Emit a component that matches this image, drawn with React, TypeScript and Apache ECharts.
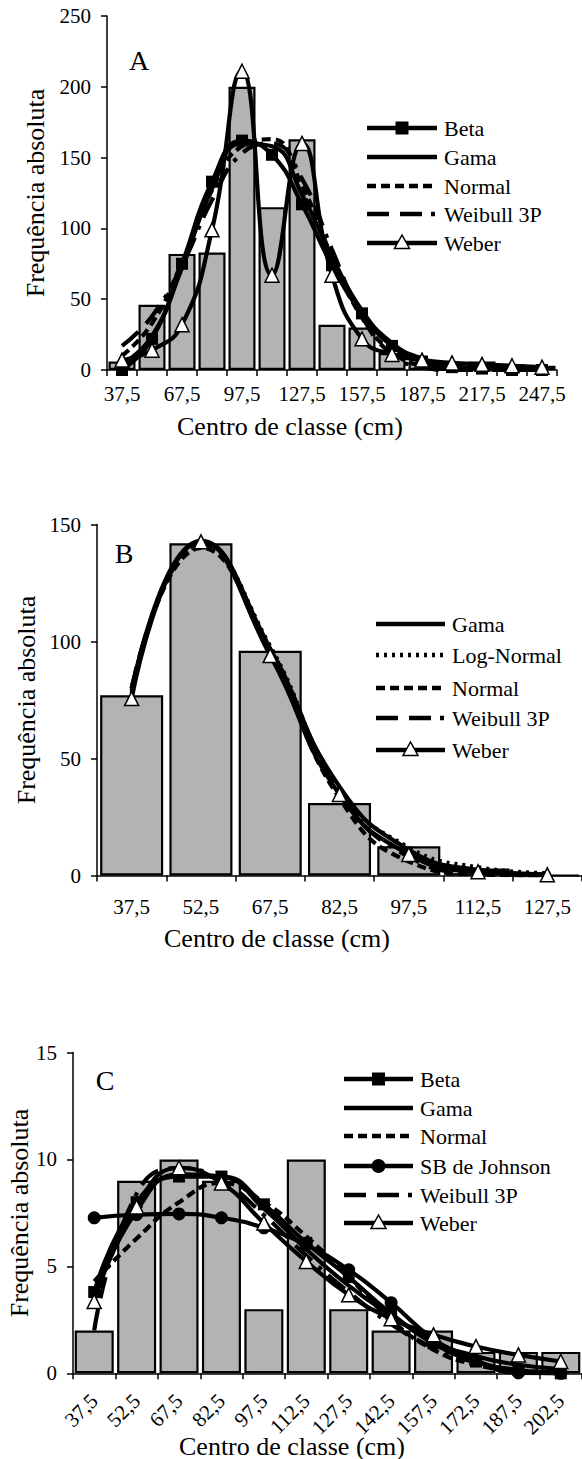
import React, { useEffect, useRef } from "react";
import * as echarts from "echarts";

// ---------- DATA ----------
const catsA = ["37,5", "52,5", "67,5", "82,5", "97,5", "112,5", "127,5", "142,5", "157,5", "172,5", "187,5", "202,5", "217,5", "232,5", "247,5"];
const barsA = [6, 46, 82, 83, 200, 115, 163, 32, 30, 12, 5, 3, 6, 4, 3];
const betaA = [0, 22, 75, 133, 162, 152, 117, 74, 40, 17, 6, 2, 1, 0, 0];
const gamaA = [4, 24, 72, 128, 160, 158, 124, 80, 42, 19, 8, 3, 1, 0.5, 0.2];
const normalA = [10, 33, 76, 127, 158, 163, 130, 80, 37, 13, 3, 0.5, 0, 0, 0];
const weibullA = [17, 38, 74, 120, 153, 160, 135, 85, 38, 11, 2, 0, 0, 0, 0];
const weberA = [7, 14, 32, 99, 211, 67, 160, 67, 22, 11, 7, 5, 4, 3, 2];

const catsB = ["37,5", "52,5", "67,5", "82,5", "97,5", "112,5", "127,5"];
const barsB = [77, 142, 96, 31, 12.5, 3, 0];
const gamaB = [79, 143, 97, 38, 11, 2.5, 0.5];
const logNormalB = [78, 142, 98, 37, 12, 3.5, 1];
const normalB = [80, 140, 96, 33, 6, 0.5, 0];
const weibullB = [80, 141, 97, 36, 8, 1, 0];
const weberB = [75.6, 142.6, 94, 34.6, 9, 1.6, 0.3];

const catsC = ["37,5", "52,5", "67,5", "82,5", "97,5", "112,5", "127,5", "142,5", "157,5", "172,5", "187,5", "202,5"];
const barsC = [2, 9, 10, 9, 3, 10, 3, 2, 2, 1, 1, 1];
const betaC = [3.8, 8.0, 9.2, 9.2, 7.9, 6.1, 4.5, 2.8, 1.4, 0.55, 0.15, 0];
const gamaC = [3.6, 7.6, 9.3, 9.2, 7.7, 5.8, 4.1, 2.7, 1.5, 0.8, 0.4, 0.2];
const normalC = [4.3, 6.3, 8.0, 8.9, 8.0, 6.4, 4.5, 2.5, 1.1, 0.4, 0.1, 0];
const sbJohnsonC = [7.27, 7.42, 7.45, 7.27, 6.8, 6.0, 4.84, 3.3, 1.6, 0.6, 0.02, 0];
const weibullC = [2.0, 8.4, 9.6, 9.0, 7.4, 5.5, 3.8, 2.3, 1.2, 0.5, 0.15, 0.05];
const weberC = [3.36, 7.78, 9.61, 8.9, 7.03, 5.23, 3.67, 2.55, 1.8, 1.25, 0.86, 0.55];

const yTicksA = { max: 250, interval: 50 };
const yTicksB = { max: 150, interval: 50 };
const yTicksC = { max: 15, interval: 5 };

// ---------- STYLES ----------
const FONT = '"Liberation Serif", "Times New Roman", serif';
const BAR_COLOR = "#b3b3b3";
const LW = 4.2;
const DASH_NORMAL = [9, 5];
const DASH_WEIBULL = [22, 11, 22, 9, 4, 9];
const DASH_LOGN = [3, 5];

type Kind = "beta" | "gama" | "normal" | "weibull" | "weber" | "logn" | "sb";

function lineSeries(kind: Kind, data: number[], idx: number, name: string) {
  const base: any = {
    type: "line",
    name,
    xAxisIndex: idx,
    yAxisIndex: idx,
    data,
    smooth: 0.5,
    symbol: "none",
    lineStyle: { color: "#000", width: LW, type: "solid" },
    itemStyle: { color: "#000" },
    z: 3,
  };
  if (kind === "beta") {
    base.symbol = "rect";
    base.symbolSize = 12;
  } else if (kind === "normal") {
    base.lineStyle.type = DASH_NORMAL;
  } else if (kind === "weibull") {
    base.lineStyle.type = DASH_WEIBULL;
  } else if (kind === "logn") {
    base.lineStyle.type = DASH_LOGN;
  } else if (kind === "weber") {
    base.symbol = "triangle";
    base.symbolSize = 14;
    base.itemStyle = { color: "#fff", borderColor: "#000", borderWidth: 1.5 };
    base.z = 5;
  } else if (kind === "sb") {
    base.symbol = "circle";
    base.symbolSize = 13;
  }
  return base;
}

function barSeries(data: number[], idx: number, gap: string) {
  return {
    type: "bar",
    xAxisIndex: idx,
    yAxisIndex: idx,
    data,
    barCategoryGap: gap,
    itemStyle: { color: BAR_COLOR, borderColor: "#000", borderWidth: 2.2 },
    z: 1,
  };
}

function legend(x1: number, x2: number, ys: number[], items: { name: string; kind: Kind }[]) {
  const els: any[] = [];
  items.forEach((it, i) => {
    const y = ys[i];
    const cx = (x1 + x2) / 2;
    let dash: any = null;
    if (it.kind === "normal") dash = DASH_NORMAL;
    if (it.kind === "weibull") dash = DASH_WEIBULL;
    if (it.kind === "logn") dash = DASH_LOGN;
    els.push({
      type: "line",
      shape: { x1, y1: y, x2, y2: y },
      style: { stroke: "#000", lineWidth: 4.5, lineDash: dash },
      z: 10,
    });
    if (it.kind === "beta") {
      els.push({ type: "rect", shape: { x: cx - 6.5, y: y - 6.5, width: 13, height: 13 }, style: { fill: "#000" }, z: 11 });
    } else if (it.kind === "weber") {
      els.push({
        type: "polygon",
        shape: { points: [[cx, y - 8], [cx - 7.5, y + 5.5], [cx + 7.5, y + 5.5]] },
        style: { fill: "#fff", stroke: "#000", lineWidth: 1.5 },
        z: 11,
      });
    } else if (it.kind === "sb") {
      els.push({ type: "circle", shape: { cx, cy: y, r: 7 }, style: { fill: "#000" }, z: 11 });
    }
    els.push({
      type: "text",
      x: x2 + 7,
      y,
      style: { text: it.name, fontSize: 22, fontFamily: FONT, fill: "#000", align: "left", verticalAlign: "middle" },
      z: 11,
    });
  });
  return els;
}

function textEl(text: string, x: number, y: number, size: number, rotation = 0) {
  return {
    type: "text",
    x,
    y,
    rotation,
    style: { text, fontSize: size, fontFamily: FONT, fill: "#000", align: "center", verticalAlign: "middle" },
    z: 12,
  };
}

function xAxis(idx: number, cats: string[], labelInterval: number, margin: number, rotate = 0) {
  return {
    type: "category",
    gridIndex: idx,
    data: cats,
    boundaryGap: true,
    axisLine: { show: true, lineStyle: { color: "#000", width: 1.5 } },
    axisTick: { show: true, inside: false, length: 6, interval: 0, alignWithLabel: false, lineStyle: { color: "#000", width: 1.5 } },
    axisLabel: { interval: labelInterval, margin, rotate, color: "#000", fontSize: 21, fontFamily: FONT },
    splitLine: { show: false },
  };
}

function yAxis(idx: number, t: { max: number; interval: number }) {
  return {
    type: "value",
    gridIndex: idx,
    min: 0,
    max: t.max,
    interval: t.interval,
    axisLine: { show: true, lineStyle: { color: "#000", width: 1.5 } },
    axisTick: { show: true, inside: false, length: 6, lineStyle: { color: "#000", width: 1.5 } },
    axisLabel: { margin: 16, color: "#000", fontSize: 21, fontFamily: FONT },
    splitLine: { show: false },
  };
}

export default function App() {
  const ref = useRef<HTMLDivElement>(null);
  useEffect(() => {
    if (!ref.current) return;
    const chart = echarts.init(ref.current, null, { renderer: "svg" });
    const option: any = {
      animation: false,
      backgroundColor: "#fff",
      grid: [
        { left: 107, top: 16, width: 450, height: 354 },
        { left: 97, top: 524.5, width: 490, height: 351 },
        { left: 73, top: 1052.5, width: 511, height: 320.8 },
      ],
      xAxis: [xAxis(0, catsA, 1, 13), xAxis(1, catsB, 0, 21), xAxis(2, catsC, 0, 24, 45)],
      yAxis: [yAxis(0, yTicksA), yAxis(1, yTicksB), yAxis(2, yTicksC)],
      series: [
        barSeries(barsA, 0, "10%"),
        lineSeries("gama", gamaA, 0, "Gama"),
        lineSeries("normal", normalA, 0, "Normal"),
        lineSeries("weibull", weibullA, 0, "Weibull 3P"),
        lineSeries("beta", betaA, 0, "Beta"),
        lineSeries("weber", weberA, 0, "Weber"),

        barSeries(barsB, 1, "9%"),
        lineSeries("gama", gamaB, 1, "Gama"),
        lineSeries("logn", logNormalB, 1, "Log-Normal"),
        lineSeries("normal", normalB, 1, "Normal"),
        lineSeries("weibull", weibullB, 1, "Weibull 3P"),
        lineSeries("weber", weberB, 1, "Weber"),

        barSeries(barsC, 2, "8%"),
        lineSeries("gama", gamaC, 2, "Gama"),
        lineSeries("normal", normalC, 2, "Normal"),
        lineSeries("weibull", weibullC, 2, "Weibull 3P"),
        lineSeries("sb", sbJohnsonC, 2, "SB de Johnson"),
        lineSeries("beta", betaC, 2, "Beta"),
        lineSeries("weber", weberC, 2, "Weber"),
      ],
      graphic: [
        textEl("A", 139, 60, 28),
        textEl("B", 124, 553, 28),
        textEl("C", 105, 1080, 28),
        textEl("Frequência absoluta", 35, 193, 26, Math.PI / 2),
        textEl("Frequência absoluta", 26, 700, 26, Math.PI / 2),
        textEl("Frequência absoluta", 19, 1213, 26, Math.PI / 2),
        textEl("Centro de classe (cm)", 290, 426, 26),
        textEl("Centro de classe (cm)", 277, 938, 26),
        textEl("Centro de classe (cm)", 292, 1446, 26),
        ...legend(367, 437, [128, 157, 186, 214, 243], [
          { name: "Beta", kind: "beta" },
          { name: "Gama", kind: "gama" },
          { name: "Normal", kind: "normal" },
          { name: "Weibull 3P", kind: "weibull" },
          { name: "Weber", kind: "weber" },
        ]),
        ...legend(376, 445, [624, 655, 688, 718, 750], [
          { name: "Gama", kind: "gama" },
          { name: "Log-Normal", kind: "logn" },
          { name: "Normal", kind: "normal" },
          { name: "Weibull 3P", kind: "weibull" },
          { name: "Weber", kind: "weber" },
        ]),
        ...legend(344, 413, [1079, 1108, 1136, 1166, 1195, 1223], [
          { name: "Beta", kind: "beta" },
          { name: "Gama", kind: "gama" },
          { name: "Normal", kind: "normal" },
          { name: "SB de Johnson", kind: "sb" },
          { name: "Weibull 3P", kind: "weibull" },
          { name: "Weber", kind: "weber" },
        ]),
      ],
    };
    chart.setOption(option);
    return () => chart.dispose();
  }, []);
  return (
    <div style={{ position: "absolute", left: 0, top: 0, width: 582, height: 1459, overflow: "hidden", background: "#fff" }}>
      <div ref={ref} style={{ width: 582, height: 1459 }} />
    </div>
  );
}
